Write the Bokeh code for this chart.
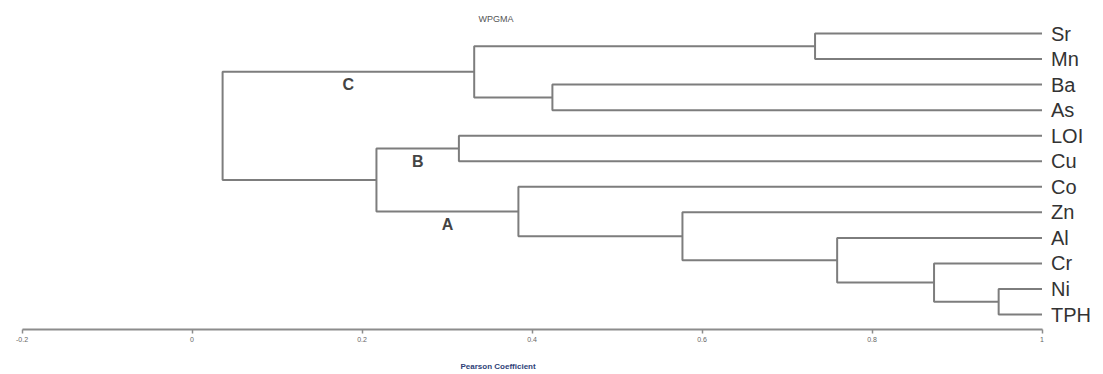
from bokeh.plotting import figure
from bokeh.models import Range1d, FixedTicker, ColumnDataSource, LinearAxis, Label
from bokeh.embed import file_html
from bokeh.resources import INLINE
from bokeh.core.properties import value

# ---------------- data ----------------
leaves = ["Sr", "Mn", "Ba", "As", "LOI", "Cu", "Co", "Zn", "Al", "Cr", "Ni", "TPH"]
leaf_similarity = 1.0
# agglomeration steps (WPGMA on Pearson coefficient); new nodes are n0, n1, ...
merge_a = ["Ni", "Cr", "Sr", "Al", "Zn", "Ba", "Co", "n2", "LOI", "n8", "n7"]
merge_b = ["TPH", "n0", "Mn", "n1", "n3", "As", "n4", "n5", "Cu", "n6", "n9"]
merge_sim = [0.949, 0.873, 0.733, 0.759, 0.577, 0.424, 0.384, 0.332, 0.314, 0.217, 0.036]
cluster_names = ["C", "B", "A"]
cluster_nodes = ["n7", "n8", "n6"]
tick_values = [-0.2, 0.0, 0.2, 0.4, 0.6, 0.8, 1.0]
tick_labels = ["-0.2", "0", "0.2", "0.4", "0.6", "0.8", "1"]
title_text = "WPGMA"
x_label = "Pearson Coefficient"

# ---------------- tree geometry from data ----------------
pos = {name: (leaf_similarity, float(i)) for i, name in enumerate(leaves)}
parent = {}
xs, ys = [], []
for k, (a, b, s) in enumerate(zip(merge_a, merge_b, merge_sim)):
    node = f"n{k}"
    xa, ya = pos[a]
    xb, yb = pos[b]
    xs.append([xa, s, s, xb])
    ys.append([ya, ya, yb, yb])
    pos[node] = (s, (ya + yb) / 2.0)
    parent[a] = node
    parent[b] = node

lab_x, lab_y = [], []
for n in cluster_nodes:
    px = pos[parent[n]][0]
    lab_x.append((pos[n][0] + px) / 2.0)
    lab_y.append(pos[n][1])

# ---------------- layout ----------------
W, H = 1103, 374
px_per_unit = 850.0
x0_px = 191.5            # pixel of similarity 0
axis_px = 329.0          # pixel row of the axis line
leaf0_px, leaf_step = 33.0, 25.55

x_lo = -x0_px / px_per_unit
x_hi = (W - x0_px) / px_per_unit
y_top = (0.0 - leaf0_px) / leaf_step
y_bot = (H - leaf0_px) / leaf_step
axis_y = (axis_px - leaf0_px) / leaf_step

p = figure(width=W, height=H, output_backend="svg", toolbar_location=None,
           x_range=Range1d(x_lo, x_hi), y_range=Range1d(y_bot, y_top),
           x_axis_location=None, y_axis_location=None,
           min_border=0)
p.outline_line_color = None
p.xgrid.grid_line_color = None
p.ygrid.grid_line_color = None
p.background_fill_color = "white"
p.border_fill_color = "white"

# title (top centre-left, as in the original)
p.add_layout(Label(x=478, y=H - 18, x_units="screen", y_units="screen",
                   text=title_text, text_align="left", text_baseline="middle",
                   text_font="Liberation Sans", text_font_size="9px",
                   text_color="#555555"))

line_color = "#7d7d7d"
p.multi_line(xs=xs, ys=ys, line_color=line_color, line_width=2)

src = ColumnDataSource(dict(x=[leaf_similarity] * len(leaves), y=list(range(len(leaves))), t=leaves))
p.text(x="x", y="y", text="t", source=src, x_offset=9, text_baseline="middle",
       text_align="left", text_font=value("Liberation Sans"), text_font_size="20px",
       text_color="#333333")

csrc = ColumnDataSource(dict(x=lab_x, y=lab_y, t=cluster_names))
p.text(x="x", y="y", text="t", source=csrc, y_offset=13, text_baseline="middle",
       text_align="center", text_font=value("Liberation Sans"), text_font_size="16px",
       text_font_style="bold", text_color="#444444")

ax = LinearAxis(ticker=FixedTicker(ticks=tick_values), bounds=(tick_values[0], tick_values[-1]),
                fixed_location=axis_y,
                major_label_overrides={v: s for v, s in zip(tick_values, tick_labels)})
ax.axis_line_color = "#8c8c8c"
ax.axis_line_width = 2
ax.major_tick_line_color = "#8c8c8c"
ax.major_tick_line_width = 1.5
ax.major_tick_in = 0
ax.major_tick_out = 4
ax.minor_tick_line_color = None
ax.major_label_text_font = "Liberation Sans"
ax.major_label_text_font_size = "7px"
ax.major_label_text_color = "#666666"
ax.major_label_standoff = 3
p.add_layout(ax, "below")

# axis title, placed as in the original (left of centre, below the tick labels)
p.add_layout(Label(x=460, y=H - 366, x_units="screen", y_units="screen",
                   text=x_label, text_align="left", text_baseline="middle",
                   text_font="Liberation Sans", text_font_size="8px",
                   text_font_style="bold", text_color="#2e3f78"))

open("out.html", "w").write(file_html(p, INLINE))
